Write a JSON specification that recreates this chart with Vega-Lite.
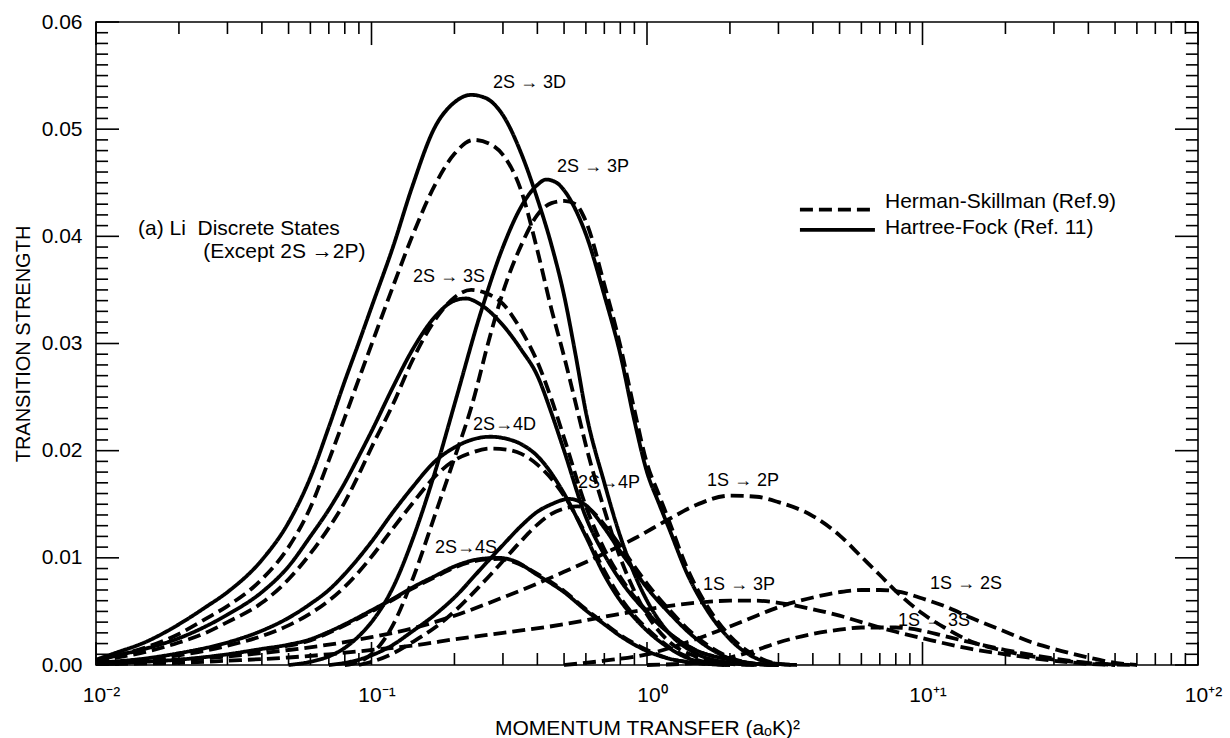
{
  "$schema": "https://vega.github.io/schema/vega-lite/v6.json",
  "width": 1102,
  "height": 643,
  "autosize": {"type": "none"},
  "padding": {"left": 96, "top": 22, "right": 32, "bottom": 73},
  "background": "white",
  "config": {
    "view": {"stroke": "black", "strokeWidth": 1.6},
    "font": "Liberation Sans",
    "text": {"font": "Liberation Sans", "color": "black"},
    "axis": {
      "domain": false, "ticks": false, "tickSize": 0, "grid": false,
      "labelColor": "black", "titleColor": "black",
      "labelFont": "Liberation Sans", "titleFont": "Liberation Sans",
      "labelOverlap": false, "labelFlush": false, "labelBound": false,
      "titleFontWeight": "normal"
    }
  },
  "datasets": {
    "curves": [
      {"c":"3D","m":"HF","x":0.01,"y":0.0005},{"c":"3D","m":"HF","x":0.012,"y":0.0012},{"c":"3D","m":"HF","x":0.015,"y":0.0021},{"c":"3D","m":"HF","x":0.02,"y":0.0038},{"c":"3D","m":"HF","x":0.025,"y":0.0054},{"c":"3D","m":"HF","x":0.03,"y":0.0068},{"c":"3D","m":"HF","x":0.04,"y":0.0098},{"c":"3D","m":"HF","x":0.05,"y":0.0133},{"c":"3D","m":"HF","x":0.06,"y":0.0175},{"c":"3D","m":"HF","x":0.07,"y":0.0222},{"c":"3D","m":"HF","x":0.08,"y":0.0265},{"c":"3D","m":"HF","x":0.09,"y":0.0301},{"c":"3D","m":"HF","x":0.1,"y":0.0334},{"c":"3D","m":"HF","x":0.12,"y":0.0391},{"c":"3D","m":"HF","x":0.14,"y":0.0445},{"c":"3D","m":"HF","x":0.17,"y":0.0502},{"c":"3D","m":"HF","x":0.2,"y":0.0525},{"c":"3D","m":"HF","x":0.23,"y":0.0532},{"c":"3D","m":"HF","x":0.26,"y":0.0529},{"c":"3D","m":"HF","x":0.3,"y":0.0513},{"c":"3D","m":"HF","x":0.35,"y":0.0477},{"c":"3D","m":"HF","x":0.4,"y":0.0435},{"c":"3D","m":"HF","x":0.45,"y":0.0392},{"c":"3D","m":"HF","x":0.5,"y":0.0345},{"c":"3D","m":"HF","x":0.55,"y":0.029},{"c":"3D","m":"HF","x":0.6,"y":0.0236},{"c":"3D","m":"HF","x":0.7,"y":0.017},{"c":"3D","m":"HF","x":0.8,"y":0.012},{"c":"3D","m":"HF","x":0.9,"y":0.0085},{"c":"3D","m":"HF","x":1.0,"y":0.006},{"c":"3D","m":"HF","x":1.2,"y":0.003},{"c":"3D","m":"HF","x":1.5,"y":0.0011},{"c":"3D","m":"HF","x":2.0,"y":0.0002},{"c":"3D","m":"HF","x":2.5,"y":0.0},

      {"c":"3D","m":"HS","x":0.01,"y":0.0004},{"c":"3D","m":"HS","x":0.012,"y":0.0009},{"c":"3D","m":"HS","x":0.015,"y":0.0016},{"c":"3D","m":"HS","x":0.02,"y":0.0029},{"c":"3D","m":"HS","x":0.025,"y":0.0043},{"c":"3D","m":"HS","x":0.03,"y":0.0055},{"c":"3D","m":"HS","x":0.04,"y":0.008},{"c":"3D","m":"HS","x":0.05,"y":0.011},{"c":"3D","m":"HS","x":0.06,"y":0.0147},{"c":"3D","m":"HS","x":0.07,"y":0.0191},{"c":"3D","m":"HS","x":0.08,"y":0.0231},{"c":"3D","m":"HS","x":0.09,"y":0.0267},{"c":"3D","m":"HS","x":0.1,"y":0.0299},{"c":"3D","m":"HS","x":0.12,"y":0.0354},{"c":"3D","m":"HS","x":0.14,"y":0.0399},{"c":"3D","m":"HS","x":0.17,"y":0.0448},{"c":"3D","m":"HS","x":0.2,"y":0.0477},{"c":"3D","m":"HS","x":0.235,"y":0.049},{"c":"3D","m":"HS","x":0.27,"y":0.0486},{"c":"3D","m":"HS","x":0.3,"y":0.0476},{"c":"3D","m":"HS","x":0.35,"y":0.0442},{"c":"3D","m":"HS","x":0.4,"y":0.0387},{"c":"3D","m":"HS","x":0.45,"y":0.0332},{"c":"3D","m":"HS","x":0.5,"y":0.0288},{"c":"3D","m":"HS","x":0.55,"y":0.0245},{"c":"3D","m":"HS","x":0.6,"y":0.0205},{"c":"3D","m":"HS","x":0.7,"y":0.0145},{"c":"3D","m":"HS","x":0.8,"y":0.01},{"c":"3D","m":"HS","x":0.9,"y":0.0069},{"c":"3D","m":"HS","x":1.0,"y":0.0047},{"c":"3D","m":"HS","x":1.2,"y":0.0022},{"c":"3D","m":"HS","x":1.5,"y":0.0008},{"c":"3D","m":"HS","x":2.0,"y":0.0001},{"c":"3D","m":"HS","x":2.5,"y":0.0},

      {"c":"3P","m":"HF","x":0.05,"y":0.0},{"c":"3P","m":"HF","x":0.06,"y":0.0003},{"c":"3P","m":"HF","x":0.07,"y":0.0008},{"c":"3P","m":"HF","x":0.08,"y":0.0016},{"c":"3P","m":"HF","x":0.09,"y":0.0027},{"c":"3P","m":"HF","x":0.1,"y":0.004},{"c":"3P","m":"HF","x":0.12,"y":0.0073},{"c":"3P","m":"HF","x":0.14,"y":0.0115},{"c":"3P","m":"HF","x":0.17,"y":0.018},{"c":"3P","m":"HF","x":0.2,"y":0.0243},{"c":"3P","m":"HF","x":0.25,"y":0.033},{"c":"3P","m":"HF","x":0.3,"y":0.039},{"c":"3P","m":"HF","x":0.35,"y":0.0428},{"c":"3P","m":"HF","x":0.4,"y":0.0448},{"c":"3P","m":"HF","x":0.43,"y":0.0453},{"c":"3P","m":"HF","x":0.47,"y":0.045},{"c":"3P","m":"HF","x":0.5,"y":0.0443},{"c":"3P","m":"HF","x":0.55,"y":0.0425},{"c":"3P","m":"HF","x":0.6,"y":0.0402},{"c":"3P","m":"HF","x":0.7,"y":0.0345},{"c":"3P","m":"HF","x":0.8,"y":0.029},{"c":"3P","m":"HF","x":0.9,"y":0.0228},{"c":"3P","m":"HF","x":1.0,"y":0.018},{"c":"3P","m":"HF","x":1.1,"y":0.0152},{"c":"3P","m":"HF","x":1.2,"y":0.0128},{"c":"3P","m":"HF","x":1.4,"y":0.0085},{"c":"3P","m":"HF","x":1.6,"y":0.0057},{"c":"3P","m":"HF","x":2.0,"y":0.0024},{"c":"3P","m":"HF","x":2.5,"y":0.0006},{"c":"3P","m":"HF","x":3.0,"y":0.0001},{"c":"3P","m":"HF","x":3.5,"y":0.0},

      {"c":"3P","m":"HS","x":0.08,"y":0.0},{"c":"3P","m":"HS","x":0.09,"y":0.0003},{"c":"3P","m":"HS","x":0.1,"y":0.001},{"c":"3P","m":"HS","x":0.11,"y":0.0022},{"c":"3P","m":"HS","x":0.12,"y":0.0038},{"c":"3P","m":"HS","x":0.14,"y":0.0078},{"c":"3P","m":"HS","x":0.17,"y":0.014},{"c":"3P","m":"HS","x":0.2,"y":0.0193},{"c":"3P","m":"HS","x":0.23,"y":0.024},{"c":"3P","m":"HS","x":0.27,"y":0.0308},{"c":"3P","m":"HS","x":0.3,"y":0.0348},{"c":"3P","m":"HS","x":0.35,"y":0.0392},{"c":"3P","m":"HS","x":0.4,"y":0.042},{"c":"3P","m":"HS","x":0.45,"y":0.0431},{"c":"3P","m":"HS","x":0.5,"y":0.0433},{"c":"3P","m":"HS","x":0.55,"y":0.043},{"c":"3P","m":"HS","x":0.6,"y":0.0414},{"c":"3P","m":"HS","x":0.7,"y":0.0355},{"c":"3P","m":"HS","x":0.8,"y":0.0298},{"c":"3P","m":"HS","x":0.9,"y":0.0238},{"c":"3P","m":"HS","x":1.0,"y":0.0188},{"c":"3P","m":"HS","x":1.1,"y":0.016},{"c":"3P","m":"HS","x":1.2,"y":0.0135},{"c":"3P","m":"HS","x":1.4,"y":0.009},{"c":"3P","m":"HS","x":1.6,"y":0.0061},{"c":"3P","m":"HS","x":2.0,"y":0.0027},{"c":"3P","m":"HS","x":2.5,"y":0.0008},{"c":"3P","m":"HS","x":3.0,"y":0.0001},{"c":"3P","m":"HS","x":3.5,"y":0.0},

      {"c":"3S","m":"HF","x":0.01,"y":0.0004},{"c":"3S","m":"HF","x":0.012,"y":0.0009},{"c":"3S","m":"HF","x":0.015,"y":0.0015},{"c":"3S","m":"HF","x":0.02,"y":0.0025},{"c":"3S","m":"HF","x":0.025,"y":0.0036},{"c":"3S","m":"HF","x":0.03,"y":0.0047},{"c":"3S","m":"HF","x":0.04,"y":0.0068},{"c":"3S","m":"HF","x":0.05,"y":0.0092},{"c":"3S","m":"HF","x":0.06,"y":0.012},{"c":"3S","m":"HF","x":0.07,"y":0.0145},{"c":"3S","m":"HF","x":0.08,"y":0.017},{"c":"3S","m":"HF","x":0.09,"y":0.0195},{"c":"3S","m":"HF","x":0.1,"y":0.0218},{"c":"3S","m":"HF","x":0.12,"y":0.026},{"c":"3S","m":"HF","x":0.14,"y":0.0293},{"c":"3S","m":"HF","x":0.17,"y":0.0325},{"c":"3S","m":"HF","x":0.2,"y":0.034},{"c":"3S","m":"HF","x":0.22,"y":0.0342},{"c":"3S","m":"HF","x":0.25,"y":0.0336},{"c":"3S","m":"HF","x":0.3,"y":0.0317},{"c":"3S","m":"HF","x":0.35,"y":0.0294},{"c":"3S","m":"HF","x":0.4,"y":0.027},{"c":"3S","m":"HF","x":0.45,"y":0.0235},{"c":"3S","m":"HF","x":0.5,"y":0.02},{"c":"3S","m":"HF","x":0.6,"y":0.0138},{"c":"3S","m":"HF","x":0.7,"y":0.0103},{"c":"3S","m":"HF","x":0.8,"y":0.0079},{"c":"3S","m":"HF","x":1.0,"y":0.0049},{"c":"3S","m":"HF","x":1.2,"y":0.003},{"c":"3S","m":"HF","x":1.5,"y":0.0014},{"c":"3S","m":"HF","x":2.0,"y":0.0005},{"c":"3S","m":"HF","x":2.5,"y":0.0001},{"c":"3S","m":"HF","x":3.0,"y":0.0},

      {"c":"3S","m":"HS","x":0.01,"y":0.0003},{"c":"3S","m":"HS","x":0.012,"y":0.0007},{"c":"3S","m":"HS","x":0.015,"y":0.0012},{"c":"3S","m":"HS","x":0.02,"y":0.0021},{"c":"3S","m":"HS","x":0.025,"y":0.003},{"c":"3S","m":"HS","x":0.03,"y":0.004},{"c":"3S","m":"HS","x":0.04,"y":0.0058},{"c":"3S","m":"HS","x":0.05,"y":0.008},{"c":"3S","m":"HS","x":0.06,"y":0.0104},{"c":"3S","m":"HS","x":0.07,"y":0.0128},{"c":"3S","m":"HS","x":0.08,"y":0.0152},{"c":"3S","m":"HS","x":0.09,"y":0.0178},{"c":"3S","m":"HS","x":0.1,"y":0.0203},{"c":"3S","m":"HS","x":0.12,"y":0.0244},{"c":"3S","m":"HS","x":0.14,"y":0.0283},{"c":"3S","m":"HS","x":0.17,"y":0.0322},{"c":"3S","m":"HS","x":0.2,"y":0.0343},{"c":"3S","m":"HS","x":0.23,"y":0.035},{"c":"3S","m":"HS","x":0.26,"y":0.0347},{"c":"3S","m":"HS","x":0.3,"y":0.0337},{"c":"3S","m":"HS","x":0.35,"y":0.0312},{"c":"3S","m":"HS","x":0.4,"y":0.0283},{"c":"3S","m":"HS","x":0.45,"y":0.0248},{"c":"3S","m":"HS","x":0.5,"y":0.0212},{"c":"3S","m":"HS","x":0.6,"y":0.0148},{"c":"3S","m":"HS","x":0.7,"y":0.0108},{"c":"3S","m":"HS","x":0.8,"y":0.0082},{"c":"3S","m":"HS","x":1.0,"y":0.005},{"c":"3S","m":"HS","x":1.2,"y":0.003},{"c":"3S","m":"HS","x":1.5,"y":0.0014},{"c":"3S","m":"HS","x":2.0,"y":0.0005},{"c":"3S","m":"HS","x":2.5,"y":0.0001},{"c":"3S","m":"HS","x":3.0,"y":0.0},

      {"c":"4D","m":"HF","x":0.01,"y":0.0002},{"c":"4D","m":"HF","x":0.015,"y":0.0006},{"c":"4D","m":"HF","x":0.02,"y":0.0011},{"c":"4D","m":"HF","x":0.03,"y":0.0021},{"c":"4D","m":"HF","x":0.04,"y":0.0032},{"c":"4D","m":"HF","x":0.05,"y":0.0044},{"c":"4D","m":"HF","x":0.06,"y":0.0057},{"c":"4D","m":"HF","x":0.07,"y":0.007},{"c":"4D","m":"HF","x":0.08,"y":0.0085},{"c":"4D","m":"HF","x":0.1,"y":0.0115},{"c":"4D","m":"HF","x":0.12,"y":0.0143},{"c":"4D","m":"HF","x":0.14,"y":0.0165},{"c":"4D","m":"HF","x":0.17,"y":0.019},{"c":"4D","m":"HF","x":0.2,"y":0.0203},{"c":"4D","m":"HF","x":0.23,"y":0.021},{"c":"4D","m":"HF","x":0.27,"y":0.0213},{"c":"4D","m":"HF","x":0.31,"y":0.0211},{"c":"4D","m":"HF","x":0.35,"y":0.0206},{"c":"4D","m":"HF","x":0.4,"y":0.0195},{"c":"4D","m":"HF","x":0.5,"y":0.016},{"c":"4D","m":"HF","x":0.6,"y":0.012},{"c":"4D","m":"HF","x":0.7,"y":0.0084},{"c":"4D","m":"HF","x":0.8,"y":0.006},{"c":"4D","m":"HF","x":0.9,"y":0.0044},{"c":"4D","m":"HF","x":1.0,"y":0.0032},{"c":"4D","m":"HF","x":1.2,"y":0.0016},{"c":"4D","m":"HF","x":1.5,"y":0.0004},{"c":"4D","m":"HF","x":2.0,"y":0.0},

      {"c":"4D","m":"HS","x":0.01,"y":0.0001},{"c":"4D","m":"HS","x":0.015,"y":0.0005},{"c":"4D","m":"HS","x":0.02,"y":0.0009},{"c":"4D","m":"HS","x":0.03,"y":0.0018},{"c":"4D","m":"HS","x":0.04,"y":0.0027},{"c":"4D","m":"HS","x":0.05,"y":0.0037},{"c":"4D","m":"HS","x":0.06,"y":0.0048},{"c":"4D","m":"HS","x":0.07,"y":0.006},{"c":"4D","m":"HS","x":0.08,"y":0.0073},{"c":"4D","m":"HS","x":0.1,"y":0.0101},{"c":"4D","m":"HS","x":0.12,"y":0.0128},{"c":"4D","m":"HS","x":0.14,"y":0.015},{"c":"4D","m":"HS","x":0.17,"y":0.0176},{"c":"4D","m":"HS","x":0.2,"y":0.0191},{"c":"4D","m":"HS","x":0.23,"y":0.0198},{"c":"4D","m":"HS","x":0.27,"y":0.0202},{"c":"4D","m":"HS","x":0.31,"y":0.0201},{"c":"4D","m":"HS","x":0.35,"y":0.0197},{"c":"4D","m":"HS","x":0.4,"y":0.0187},{"c":"4D","m":"HS","x":0.5,"y":0.0158},{"c":"4D","m":"HS","x":0.6,"y":0.0122},{"c":"4D","m":"HS","x":0.7,"y":0.0088},{"c":"4D","m":"HS","x":0.8,"y":0.0063},{"c":"4D","m":"HS","x":0.9,"y":0.0046},{"c":"4D","m":"HS","x":1.0,"y":0.0034},{"c":"4D","m":"HS","x":1.2,"y":0.0017},{"c":"4D","m":"HS","x":1.5,"y":0.0005},{"c":"4D","m":"HS","x":2.0,"y":0.0},

      {"c":"4P","m":"HF","x":0.07,"y":0.0},{"c":"4P","m":"HF","x":0.08,"y":0.0002},{"c":"4P","m":"HF","x":0.09,"y":0.0005},{"c":"4P","m":"HF","x":0.1,"y":0.0009},{"c":"4P","m":"HF","x":0.12,"y":0.0019},{"c":"4P","m":"HF","x":0.14,"y":0.0031},{"c":"4P","m":"HF","x":0.17,"y":0.0047},{"c":"4P","m":"HF","x":0.2,"y":0.0063},{"c":"4P","m":"HF","x":0.25,"y":0.009},{"c":"4P","m":"HF","x":0.3,"y":0.0112},{"c":"4P","m":"HF","x":0.35,"y":0.013},{"c":"4P","m":"HF","x":0.4,"y":0.0143},{"c":"4P","m":"HF","x":0.45,"y":0.015},{"c":"4P","m":"HF","x":0.52,"y":0.0155},{"c":"4P","m":"HF","x":0.6,"y":0.0149},{"c":"4P","m":"HF","x":0.7,"y":0.0128},{"c":"4P","m":"HF","x":0.8,"y":0.0106},{"c":"4P","m":"HF","x":0.9,"y":0.0088},{"c":"4P","m":"HF","x":1.0,"y":0.0072},{"c":"4P","m":"HF","x":1.2,"y":0.0049},{"c":"4P","m":"HF","x":1.5,"y":0.0025},{"c":"4P","m":"HF","x":2.0,"y":0.0006},{"c":"4P","m":"HF","x":2.5,"y":0.0001},{"c":"4P","m":"HF","x":3.0,"y":0.0},

      {"c":"4P","m":"HS","x":0.09,"y":0.0},{"c":"4P","m":"HS","x":0.1,"y":0.0003},{"c":"4P","m":"HS","x":0.12,"y":0.0011},{"c":"4P","m":"HS","x":0.14,"y":0.0021},{"c":"4P","m":"HS","x":0.17,"y":0.0035},{"c":"4P","m":"HS","x":0.2,"y":0.005},{"c":"4P","m":"HS","x":0.25,"y":0.0075},{"c":"4P","m":"HS","x":0.3,"y":0.0097},{"c":"4P","m":"HS","x":0.35,"y":0.0116},{"c":"4P","m":"HS","x":0.4,"y":0.0131},{"c":"4P","m":"HS","x":0.45,"y":0.0141},{"c":"4P","m":"HS","x":0.5,"y":0.0146},{"c":"4P","m":"HS","x":0.56,"y":0.0148},{"c":"4P","m":"HS","x":0.62,"y":0.0145},{"c":"4P","m":"HS","x":0.7,"y":0.0131},{"c":"4P","m":"HS","x":0.8,"y":0.0111},{"c":"4P","m":"HS","x":0.9,"y":0.0092},{"c":"4P","m":"HS","x":1.0,"y":0.0076},{"c":"4P","m":"HS","x":1.2,"y":0.0052},{"c":"4P","m":"HS","x":1.5,"y":0.0027},{"c":"4P","m":"HS","x":2.0,"y":0.0007},{"c":"4P","m":"HS","x":2.5,"y":0.0001},{"c":"4P","m":"HS","x":3.0,"y":0.0},

      {"c":"4S","m":"HF","x":0.01,"y":0.0001},{"c":"4S","m":"HF","x":0.015,"y":0.0003},{"c":"4S","m":"HF","x":0.02,"y":0.0005},{"c":"4S","m":"HF","x":0.03,"y":0.001},{"c":"4S","m":"HF","x":0.04,"y":0.0015},{"c":"4S","m":"HF","x":0.05,"y":0.0019},{"c":"4S","m":"HF","x":0.06,"y":0.0024},{"c":"4S","m":"HF","x":0.07,"y":0.0031},{"c":"4S","m":"HF","x":0.08,"y":0.0038},{"c":"4S","m":"HF","x":0.1,"y":0.0051},{"c":"4S","m":"HF","x":0.12,"y":0.0062},{"c":"4S","m":"HF","x":0.14,"y":0.0072},{"c":"4S","m":"HF","x":0.17,"y":0.0083},{"c":"4S","m":"HF","x":0.2,"y":0.0092},{"c":"4S","m":"HF","x":0.25,"y":0.0099},{"c":"4S","m":"HF","x":0.29,"y":0.01},{"c":"4S","m":"HF","x":0.33,"y":0.0097},{"c":"4S","m":"HF","x":0.4,"y":0.0084},{"c":"4S","m":"HF","x":0.5,"y":0.0068},{"c":"4S","m":"HF","x":0.6,"y":0.0051},{"c":"4S","m":"HF","x":0.7,"y":0.0038},{"c":"4S","m":"HF","x":0.8,"y":0.0027},{"c":"4S","m":"HF","x":0.9,"y":0.0019},{"c":"4S","m":"HF","x":1.0,"y":0.0013},{"c":"4S","m":"HF","x":1.2,"y":0.0006},{"c":"4S","m":"HF","x":1.5,"y":0.0002},{"c":"4S","m":"HF","x":2.0,"y":0.0},

      {"c":"4S","m":"HS","x":0.01,"y":0.0001},{"c":"4S","m":"HS","x":0.015,"y":0.0002},{"c":"4S","m":"HS","x":0.02,"y":0.0004},{"c":"4S","m":"HS","x":0.03,"y":0.0009},{"c":"4S","m":"HS","x":0.04,"y":0.0014},{"c":"4S","m":"HS","x":0.05,"y":0.0018},{"c":"4S","m":"HS","x":0.06,"y":0.0023},{"c":"4S","m":"HS","x":0.07,"y":0.003},{"c":"4S","m":"HS","x":0.08,"y":0.0037},{"c":"4S","m":"HS","x":0.1,"y":0.005},{"c":"4S","m":"HS","x":0.12,"y":0.0061},{"c":"4S","m":"HS","x":0.14,"y":0.0071},{"c":"4S","m":"HS","x":0.17,"y":0.0082},{"c":"4S","m":"HS","x":0.2,"y":0.0091},{"c":"4S","m":"HS","x":0.25,"y":0.0098},{"c":"4S","m":"HS","x":0.29,"y":0.0099},{"c":"4S","m":"HS","x":0.33,"y":0.0096},{"c":"4S","m":"HS","x":0.4,"y":0.0085},{"c":"4S","m":"HS","x":0.5,"y":0.0069},{"c":"4S","m":"HS","x":0.6,"y":0.0052},{"c":"4S","m":"HS","x":0.7,"y":0.0039},{"c":"4S","m":"HS","x":0.8,"y":0.0028},{"c":"4S","m":"HS","x":0.9,"y":0.002},{"c":"4S","m":"HS","x":1.0,"y":0.0014},{"c":"4S","m":"HS","x":1.2,"y":0.0006},{"c":"4S","m":"HS","x":1.5,"y":0.0002},{"c":"4S","m":"HS","x":2.0,"y":0.0},

      {"c":"1S2P","m":"HS","x":0.01,"y":0.0002},{"c":"1S2P","m":"HS","x":0.02,"y":0.0005},{"c":"1S2P","m":"HS","x":0.03,"y":0.0008},{"c":"1S2P","m":"HS","x":0.05,"y":0.0014},{"c":"1S2P","m":"HS","x":0.07,"y":0.0019},{"c":"1S2P","m":"HS","x":0.1,"y":0.0026},{"c":"1S2P","m":"HS","x":0.15,"y":0.0036},{"c":"1S2P","m":"HS","x":0.2,"y":0.0046},{"c":"1S2P","m":"HS","x":0.3,"y":0.0063},{"c":"1S2P","m":"HS","x":0.4,"y":0.0076},{"c":"1S2P","m":"HS","x":0.5,"y":0.0087},{"c":"1S2P","m":"HS","x":0.7,"y":0.0104},{"c":"1S2P","m":"HS","x":0.9,"y":0.0118},{"c":"1S2P","m":"HS","x":1.2,"y":0.0136},{"c":"1S2P","m":"HS","x":1.5,"y":0.0149},{"c":"1S2P","m":"HS","x":2.0,"y":0.0158},{"c":"1S2P","m":"HS","x":2.5,"y":0.0157},{"c":"1S2P","m":"HS","x":3.0,"y":0.0152},{"c":"1S2P","m":"HS","x":4.0,"y":0.0139},{"c":"1S2P","m":"HS","x":5.0,"y":0.0121},{"c":"1S2P","m":"HS","x":6.0,"y":0.0101},{"c":"1S2P","m":"HS","x":7.0,"y":0.0084},{"c":"1S2P","m":"HS","x":8.0,"y":0.0069},{"c":"1S2P","m":"HS","x":10,"y":0.0048},{"c":"1S2P","m":"HS","x":12,"y":0.0035},{"c":"1S2P","m":"HS","x":15,"y":0.0022},{"c":"1S2P","m":"HS","x":20,"y":0.0013},{"c":"1S2P","m":"HS","x":30,"y":0.0005},{"c":"1S2P","m":"HS","x":45,"y":0.0001},{"c":"1S2P","m":"HS","x":60,"y":0.0},

      {"c":"1S3P","m":"HS","x":0.01,"y":0.0001},{"c":"1S3P","m":"HS","x":0.02,"y":0.0002},{"c":"1S3P","m":"HS","x":0.03,"y":0.0004},{"c":"1S3P","m":"HS","x":0.05,"y":0.0007},{"c":"1S3P","m":"HS","x":0.07,"y":0.001},{"c":"1S3P","m":"HS","x":0.1,"y":0.0014},{"c":"1S3P","m":"HS","x":0.15,"y":0.0019},{"c":"1S3P","m":"HS","x":0.2,"y":0.0024},{"c":"1S3P","m":"HS","x":0.3,"y":0.003},{"c":"1S3P","m":"HS","x":0.5,"y":0.0038},{"c":"1S3P","m":"HS","x":0.7,"y":0.0045},{"c":"1S3P","m":"HS","x":1.0,"y":0.0052},{"c":"1S3P","m":"HS","x":1.5,"y":0.0058},{"c":"1S3P","m":"HS","x":2.0,"y":0.006},{"c":"1S3P","m":"HS","x":2.5,"y":0.006},{"c":"1S3P","m":"HS","x":3.0,"y":0.0058},{"c":"1S3P","m":"HS","x":4.0,"y":0.0052},{"c":"1S3P","m":"HS","x":5.0,"y":0.0046},{"c":"1S3P","m":"HS","x":6.0,"y":0.004},{"c":"1S3P","m":"HS","x":8.0,"y":0.0031},{"c":"1S3P","m":"HS","x":10,"y":0.0025},{"c":"1S3P","m":"HS","x":15,"y":0.0015},{"c":"1S3P","m":"HS","x":20,"y":0.001},{"c":"1S3P","m":"HS","x":30,"y":0.0004},{"c":"1S3P","m":"HS","x":40,"y":0.0001},{"c":"1S3P","m":"HS","x":50,"y":0.0},

      {"c":"1S2S","m":"HS","x":0.5,"y":0.0},{"c":"1S2S","m":"HS","x":0.7,"y":0.0004},{"c":"1S2S","m":"HS","x":1.0,"y":0.001},{"c":"1S2S","m":"HS","x":1.5,"y":0.0024},{"c":"1S2S","m":"HS","x":2.0,"y":0.0036},{"c":"1S2S","m":"HS","x":2.5,"y":0.0046},{"c":"1S2S","m":"HS","x":3.0,"y":0.0054},{"c":"1S2S","m":"HS","x":4.0,"y":0.0063},{"c":"1S2S","m":"HS","x":5.0,"y":0.0068},{"c":"1S2S","m":"HS","x":6.0,"y":0.007},{"c":"1S2S","m":"HS","x":7.0,"y":0.007},{"c":"1S2S","m":"HS","x":8.0,"y":0.0069},{"c":"1S2S","m":"HS","x":10,"y":0.0062},{"c":"1S2S","m":"HS","x":12,"y":0.0055},{"c":"1S2S","m":"HS","x":15,"y":0.0044},{"c":"1S2S","m":"HS","x":20,"y":0.0031},{"c":"1S2S","m":"HS","x":25,"y":0.0021},{"c":"1S2S","m":"HS","x":30,"y":0.0015},{"c":"1S2S","m":"HS","x":40,"y":0.0007},{"c":"1S2S","m":"HS","x":50,"y":0.0002},{"c":"1S2S","m":"HS","x":60,"y":0.0},

      {"c":"1S3S","m":"HS","x":1.0,"y":0.0},{"c":"1S3S","m":"HS","x":1.5,"y":0.0002},{"c":"1S3S","m":"HS","x":2.0,"y":0.0007},{"c":"1S3S","m":"HS","x":2.5,"y":0.0014},{"c":"1S3S","m":"HS","x":3.0,"y":0.0021},{"c":"1S3S","m":"HS","x":4.0,"y":0.0029},{"c":"1S3S","m":"HS","x":5.0,"y":0.0033},{"c":"1S3S","m":"HS","x":6.0,"y":0.0035},{"c":"1S3S","m":"HS","x":7.0,"y":0.0035},{"c":"1S3S","m":"HS","x":8.0,"y":0.0035},{"c":"1S3S","m":"HS","x":10,"y":0.0032},{"c":"1S3S","m":"HS","x":12,"y":0.0027},{"c":"1S3S","m":"HS","x":15,"y":0.0021},{"c":"1S3S","m":"HS","x":20,"y":0.0014},{"c":"1S3S","m":"HS","x":30,"y":0.0006},{"c":"1S3S","m":"HS","x":40,"y":0.0002},{"c":"1S3S","m":"HS","x":50,"y":0.0}
    ],
    "tags": [
      {"t":"2S → 3D","x":0.276,"y":0.0543},
      {"t":"2S → 3P","x":0.471,"y":0.0465},
      {"t":"2S → 3S","x":0.1415,"y":0.0362},
      {"t":"2S→4D","x":0.2336,"y":0.0224},
      {"t":"2S→4P","x":0.5618,"y":0.017},
      {"t":"1S → 2P","x":1.652,"y":0.0172},
      {"t":"2S→4S","x":0.17,"y":0.0109},
      {"t":"1S → 3P","x":1.597,"y":0.0075},
      {"t":"1S → 2S","x":10.65,"y":0.0076},
      {"t":"1S → 3S","x":8.15,"y":0.0041}
    ],
    "notes": [
      {"t":"(a) Li\u00a0 Discrete States","x":0.0142,"y":0.0407},
      {"t":"(Except 2S →2P)","x":0.0245,"y":0.0385}
    ],
    "key": [
      {"m":"HS","t":"Herman-Skillman (Ref.9)","x1":3.59,"x2":6.72,"xt":7.31,"y":0.0425,"yt":0.0432},
      {"m":"HF","t":"Hartree-Fock (Ref. 11)","x1":3.59,"x2":6.72,"xt":7.31,"y":0.0406,"yt":0.0408}
    ],
    "xticks": [
      {"v":0.01,"k":"major"},{"v":0.02,"k":"minor"},{"v":0.03,"k":"minor"},{"v":0.04,"k":"minor"},{"v":0.05,"k":"minor"},{"v":0.06,"k":"minor"},{"v":0.07,"k":"minor"},{"v":0.08,"k":"minor"},{"v":0.09,"k":"minor"},
      {"v":0.1,"k":"major"},{"v":0.2,"k":"minor"},{"v":0.3,"k":"minor"},{"v":0.4,"k":"minor"},{"v":0.5,"k":"minor"},{"v":0.6,"k":"minor"},{"v":0.7,"k":"minor"},{"v":0.8,"k":"minor"},{"v":0.9,"k":"minor"},
      {"v":1,"k":"major"},{"v":2,"k":"minor"},{"v":3,"k":"minor"},{"v":4,"k":"minor"},{"v":5,"k":"minor"},{"v":6,"k":"minor"},{"v":7,"k":"minor"},{"v":8,"k":"minor"},{"v":9,"k":"minor"},
      {"v":10,"k":"major"},{"v":20,"k":"minor"},{"v":30,"k":"minor"},{"v":40,"k":"minor"},{"v":50,"k":"minor"},{"v":60,"k":"minor"},{"v":70,"k":"minor"},{"v":80,"k":"minor"},{"v":90,"k":"minor"},
      {"v":100,"k":"major"}
    ],
    "yticks": [
      {"v":0,"k":"major"},{"v":0.001,"k":"minor"},{"v":0.002,"k":"minor"},{"v":0.003,"k":"minor"},{"v":0.004,"k":"minor"},{"v":0.005,"k":"minor"},{"v":0.006,"k":"minor"},{"v":0.007,"k":"minor"},{"v":0.008,"k":"minor"},{"v":0.009,"k":"minor"},
      {"v":0.01,"k":"major"},{"v":0.011,"k":"minor"},{"v":0.012,"k":"minor"},{"v":0.013,"k":"minor"},{"v":0.014,"k":"minor"},{"v":0.015,"k":"minor"},{"v":0.016,"k":"minor"},{"v":0.017,"k":"minor"},{"v":0.018,"k":"minor"},{"v":0.019,"k":"minor"},
      {"v":0.02,"k":"major"},{"v":0.021,"k":"minor"},{"v":0.022,"k":"minor"},{"v":0.023,"k":"minor"},{"v":0.024,"k":"minor"},{"v":0.025,"k":"minor"},{"v":0.026,"k":"minor"},{"v":0.027,"k":"minor"},{"v":0.028,"k":"minor"},{"v":0.029,"k":"minor"},
      {"v":0.03,"k":"major"},{"v":0.031,"k":"minor"},{"v":0.032,"k":"minor"},{"v":0.033,"k":"minor"},{"v":0.034,"k":"minor"},{"v":0.035,"k":"minor"},{"v":0.036,"k":"minor"},{"v":0.037,"k":"minor"},{"v":0.038,"k":"minor"},{"v":0.039,"k":"minor"},
      {"v":0.04,"k":"major"},{"v":0.041,"k":"minor"},{"v":0.042,"k":"minor"},{"v":0.043,"k":"minor"},{"v":0.044,"k":"minor"},{"v":0.045,"k":"minor"},{"v":0.046,"k":"minor"},{"v":0.047,"k":"minor"},{"v":0.048,"k":"minor"},{"v":0.049,"k":"minor"},
      {"v":0.05,"k":"major"},{"v":0.051,"k":"minor"},{"v":0.052,"k":"minor"},{"v":0.053,"k":"minor"},{"v":0.054,"k":"minor"},{"v":0.055,"k":"minor"},{"v":0.056,"k":"minor"},{"v":0.057,"k":"minor"},{"v":0.058,"k":"minor"},{"v":0.059,"k":"minor"},
      {"v":0.06,"k":"major"}
    ]
  },
  "layer": [
    {
      "data": {"name": "curves"},
      "mark": {"type": "line", "interpolate": "monotone", "strokeWidth": 3.8, "color": "black", "strokeCap": "butt"},
      "encoding": {
        "x": {
          "field": "x", "type": "quantitative",
          "scale": {"type": "log", "domain": [0.01, 100], "nice": false},
          "axis": {
            "orient": "bottom",
            "values": [0.01, 0.1, 1, 10, 100],
            "labelExpr": "datum.value == 0.01 ? '10⁻²' : datum.value == 0.1 ? '10⁻¹' : datum.value == 1 ? '10⁰' : datum.value == 10 ? '10⁺¹' : '10⁺²'",
            "labelPadding": 19,
            "labelOffset": 5,
            "labelFontSize": 21,
            "title": "MOMENTUM TRANSFER (aₒK)²",
            "titleFontSize": 21,
            "titlePadding": 12
          }
        },
        "y": {
          "field": "y", "type": "quantitative",
          "scale": {"domain": [0, 0.06], "nice": false, "zero": false},
          "axis": {
            "orient": "left",
            "values": [0, 0.01, 0.02, 0.03, 0.04, 0.05, 0.06],
            "format": ".2f",
            "labelPadding": 14,
            "labelFontSize": 21,
            "title": "TRANSITION STRENGTH",
            "titleFontSize": 20,
            "titlePadding": 8
          }
        },
        "detail": {"field": "c"},
        "strokeDash": {
          "field": "m", "type": "nominal",
          "scale": {"domain": ["HS", "HF"], "range": [[13, 6], [1, 0]]},
          "legend": null
        }
      }
    },
    {
      "data": {"name": "tags"},
      "mark": {"type": "text", "align": "left", "baseline": "middle", "fontSize": 18},
      "encoding": {
        "x": {"field": "x", "type": "quantitative", "scale": {"type": "log", "domain": [0.01, 100], "nice": false}, "axis": null},
        "y": {"field": "y", "type": "quantitative", "scale": {"domain": [0, 0.06], "nice": false, "zero": false}, "axis": null},
        "text": {"field": "t"}
      }
    },
    {
      "data": {"name": "notes"},
      "mark": {"type": "text", "align": "left", "baseline": "middle", "fontSize": 21},
      "encoding": {
        "x": {"field": "x", "type": "quantitative", "scale": {"type": "log", "domain": [0.01, 100], "nice": false}, "axis": null},
        "y": {"field": "y", "type": "quantitative", "scale": {"domain": [0, 0.06], "nice": false, "zero": false}, "axis": null},
        "text": {"field": "t"}
      }
    },
    {
      "data": {"name": "key"},
      "mark": {"type": "rule", "strokeWidth": 3.8, "color": "black"},
      "encoding": {
        "x": {"field": "x1", "type": "quantitative", "scale": {"type": "log", "domain": [0.01, 100], "nice": false}, "axis": null},
        "x2": {"field": "x2"},
        "y": {"field": "y", "type": "quantitative", "scale": {"domain": [0, 0.06], "nice": false, "zero": false}, "axis": null},
        "strokeDash": {"field": "m", "type": "nominal", "scale": {"domain": ["HS", "HF"], "range": [[13, 6], [1, 0]]}, "legend": null}
      }
    },
    {
      "data": {"name": "key"},
      "mark": {"type": "text", "align": "left", "baseline": "middle", "fontSize": 21},
      "encoding": {
        "x": {"field": "xt", "type": "quantitative", "scale": {"type": "log", "domain": [0.01, 100], "nice": false}, "axis": null},
        "y": {"field": "yt", "type": "quantitative", "scale": {"domain": [0, 0.06], "nice": false, "zero": false}, "axis": null},
        "text": {"field": "t"}
      }
    },
    {
      "data": {"name": "xticks"},
      "transform": [{"filter": "datum.k == 'major'"}],
      "mark": {"type": "rule", "color": "black", "strokeWidth": 1.6},
      "encoding": {
        "x": {"field": "v", "type": "quantitative", "scale": {"type": "log", "domain": [0.01, 100], "nice": false}, "axis": null},
        "y": {"datum": 0, "type": "quantitative", "scale": {"domain": [0, 0.06], "nice": false, "zero": false}, "axis": null},
        "y2": {"datum": 0.00215}
      }
    },
    {
      "data": {"name": "xticks"},
      "transform": [{"filter": "datum.k == 'minor'"}],
      "mark": {"type": "rule", "color": "black", "strokeWidth": 1.6},
      "encoding": {
        "x": {"field": "v", "type": "quantitative", "scale": {"type": "log", "domain": [0.01, 100], "nice": false}, "axis": null},
        "y": {"datum": 0, "type": "quantitative", "scale": {"domain": [0, 0.06], "nice": false, "zero": false}, "axis": null},
        "y2": {"datum": 0.00112}
      }
    },
    {
      "data": {"name": "xticks"},
      "transform": [{"filter": "datum.k == 'major'"}],
      "mark": {"type": "rule", "color": "black", "strokeWidth": 1.6},
      "encoding": {
        "x": {"field": "v", "type": "quantitative", "scale": {"type": "log", "domain": [0.01, 100], "nice": false}, "axis": null},
        "y": {"datum": 0.06, "type": "quantitative", "scale": {"domain": [0, 0.06], "nice": false, "zero": false}, "axis": null},
        "y2": {"datum": 0.05785}
      }
    },
    {
      "data": {"name": "xticks"},
      "transform": [{"filter": "datum.k == 'minor'"}],
      "mark": {"type": "rule", "color": "black", "strokeWidth": 1.6},
      "encoding": {
        "x": {"field": "v", "type": "quantitative", "scale": {"type": "log", "domain": [0.01, 100], "nice": false}, "axis": null},
        "y": {"datum": 0.06, "type": "quantitative", "scale": {"domain": [0, 0.06], "nice": false, "zero": false}, "axis": null},
        "y2": {"datum": 0.05888}
      }
    },
    {
      "data": {"name": "yticks"},
      "transform": [{"filter": "datum.k == 'major'"}],
      "mark": {"type": "rule", "color": "black", "strokeWidth": 1.6},
      "encoding": {
        "y": {"field": "v", "type": "quantitative", "scale": {"domain": [0, 0.06], "nice": false, "zero": false}, "axis": null},
        "x": {"datum": 0.01, "type": "quantitative", "scale": {"type": "log", "domain": [0.01, 100], "nice": false}, "axis": null},
        "x2": {"datum": 0.01212}
      }
    },
    {
      "data": {"name": "yticks"},
      "transform": [{"filter": "datum.k == 'minor'"}],
      "mark": {"type": "rule", "color": "black", "strokeWidth": 1.6},
      "encoding": {
        "y": {"field": "v", "type": "quantitative", "scale": {"domain": [0, 0.06], "nice": false, "zero": false}, "axis": null},
        "x": {"datum": 0.01, "type": "quantitative", "scale": {"type": "log", "domain": [0.01, 100], "nice": false}, "axis": null},
        "x2": {"datum": 0.01106}
      }
    },
    {
      "data": {"name": "yticks"},
      "transform": [{"filter": "datum.k == 'major'"}],
      "mark": {"type": "rule", "color": "black", "strokeWidth": 1.6},
      "encoding": {
        "y": {"field": "v", "type": "quantitative", "scale": {"domain": [0, 0.06], "nice": false, "zero": false}, "axis": null},
        "x": {"datum": 100, "type": "quantitative", "scale": {"type": "log", "domain": [0.01, 100], "nice": false}, "axis": null},
        "x2": {"datum": 82.5}
      }
    },
    {
      "data": {"name": "yticks"},
      "transform": [{"filter": "datum.k == 'minor'"}],
      "mark": {"type": "rule", "color": "black", "strokeWidth": 1.6},
      "encoding": {
        "y": {"field": "v", "type": "quantitative", "scale": {"domain": [0, 0.06], "nice": false, "zero": false}, "axis": null},
        "x": {"datum": 100, "type": "quantitative", "scale": {"type": "log", "domain": [0.01, 100], "nice": false}, "axis": null},
        "x2": {"datum": 90.4}
      }
    }
  ],
  "resolve": {"axis": {"x": "independent", "y": "independent"}}
}
